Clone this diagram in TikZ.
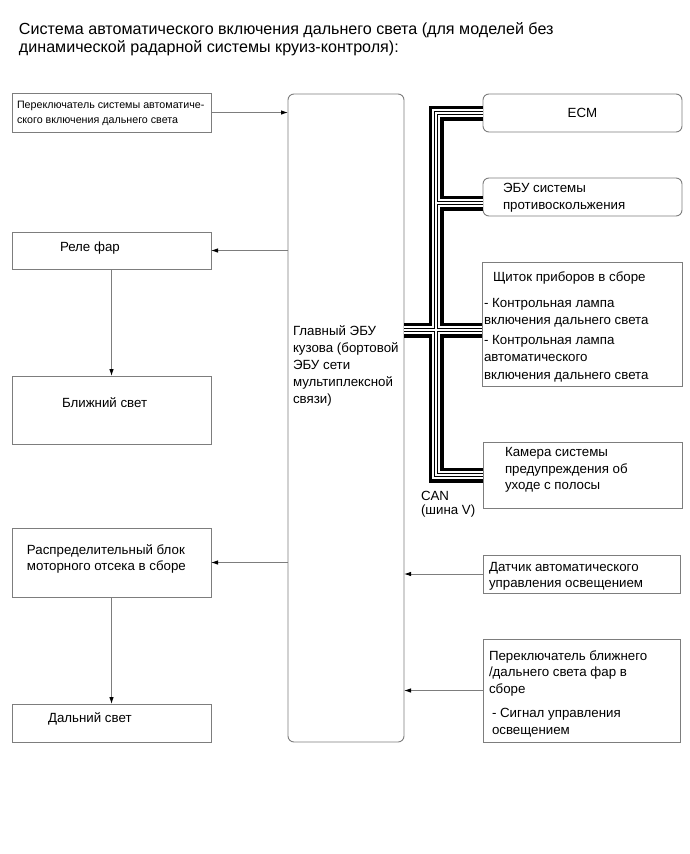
\documentclass[tikz,border=0pt]{standalone}
\usepackage{fontspec}
\setmainfont{Liberation Sans}
\usetikzlibrary{arrows.meta}
\definecolor{boxgray}{RGB}{125,125,125}
\begin{document}
\begin{tikzpicture}[x=1pt,y=-1pt,
  bx/.style={draw=boxgray, line width=0.9pt, fill=white, inner sep=0pt, outer sep=0pt, anchor=north west},
  rbx/.style={bx, rounded corners=6pt},
  txt/.style={anchor=north west, inner sep=0pt, outer sep=0pt, align=left, font=\fontsize{13.3}{16.5}\selectfont},
  arr/.style={draw=boxgray, line width=0.9pt, -{Latex[length=7pt,width=4.5pt,color=black]}},
  canbus/.style={draw=black, line width=15pt,
    postaction={draw=white, line width=8pt},
    postaction={draw=black, line width=3.4pt},
    postaction={draw=white, line width=1.4pt}},
]
\fill[white] (0,0) rectangle (690,854);
\useasboundingbox (0,0) rectangle (690,854);

% title
\node[txt, font=\fontsize{16.1}{18}\selectfont] (title) at (19,21.6)
  {\strut Система автоматического включения дальнего света (для моделей без\\динамической радарной системы круиз-контроля):};

% boxes
\node[bx, minimum width=199pt, minimum height=39pt] (sw) at (12,93) {};
\node[bx, minimum width=199pt, minimum height=37pt] (rele) at (12,232) {};
\node[bx, minimum width=199pt, minimum height=68pt] (near) at (12,376) {};
\node[bx, minimum width=199pt, minimum height=69pt] (rasp) at (12,528) {};
\node[bx, minimum width=199pt, minimum height=38pt] (far) at (12,704) {};
\node[rbx, minimum width=116pt, minimum height=648pt] (main) at (288,94) {};
\node[rbx, minimum width=199pt, minimum height=38pt] (ecm) at (483,94) {};
\node[rbx, minimum width=199pt, minimum height=38pt] (ebu) at (483,178) {};
\node[bx, minimum width=200pt, minimum height=124pt] (cl) at (482,262) {};
\node[bx, minimum width=199pt, minimum height=66pt] (cam) at (483,442) {};
\node[bx, minimum width=197pt, minimum height=38pt] (dat) at (483,555) {};
\node[bx, minimum width=197pt, minimum height=103pt] (pbl) at (483,639) {};

% texts
\node[txt, font=\fontsize{10.7}{14.5}\selectfont] (swt) at (17,98.6)
  {\strut Переключатель системы автоматиче-\\ского включения дальнего света};
\node[txt] (relet) at (60,240.4) {\strut Реле фар};
\node[txt] (neart) at (62,395.7) {\strut Ближний свет};
\node[txt] (raspt) at (27,542.8) {\strut Распределительный блок\\моторного отсека в сборе};
\node[txt] (fart) at (48,711.3) {\strut Дальний свет};
\node[txt, font=\fontsize{13.3}{17}\selectfont] (maint) at (293,323.8)
  {\strut Главный ЭБУ\\кузова (бортовой\\ЭБУ сети\\мультиплексной\\связи)};
\node[font=\fontsize{13.3}{16.5}\selectfont, inner sep=0pt] (ecmt) at (ecm.center) {ECM};
\node[txt] (ebut) at (503,181.3) {\strut ЭБУ системы\\противоскольжения};
\node[txt, font=\fontsize{13.3}{17.5}\selectfont] (clt) at (484,269.3)
  {\strut\hspace*{9pt}Щиток приборов в сборе\\[8pt]- Контрольная лампа\\включения дальнего света\\[2pt]- Контрольная лампа\\автоматического\\включения дальнего света};
\node[txt] (camt) at (505,445.2) {\strut Камера системы\\предупреждения об\\уходе с полосы};
\node[txt, font=\fontsize{13.3}{14.5}\selectfont] (cant) at (421,490.2) {\strut CAN\\(шина V)};
\node[txt] (datt) at (489,559.5) {\strut Датчик автоматического\\управления освещением};
\node[txt] (pblt) at (489,648.8) {\strut Переключатель ближнего\\/дальнего света фар в\\сборе};
\node[txt] (pblt2) at (492,706.3) {\strut - Сигнал управления\\освещением};

% arrows
\draw[arr] (sw.east) -- (sw.east -| main.west);
\draw[arr] (rele.east -| main.west) -- (rele.east);
\draw[arr] (rele.south) -- (near.north);
\draw[arr] (rasp.east -| main.west) -- (rasp.east);
\draw[arr] (rasp.south) -- (far.north);
\draw[arr] (dat.west) -- (dat.west -| main.east);
\draw[arr] (pbl.west) -- (pbl.west -| main.east);

% CAN bus
\coordinate (busx) at (436,0);
\coordinate (ebuin) at ([yshift=-6pt]ebu.west);
\coordinate (clin) at ([yshift=-6pt]cl.west);
\path[canbus] (ecm.west) -| (busx |- cam.west) -- (cam.west)
  (ebuin) -- (ebuin -| busx)
  (clin -| main.east) -- (clin);
\end{tikzpicture}
\end{document}
